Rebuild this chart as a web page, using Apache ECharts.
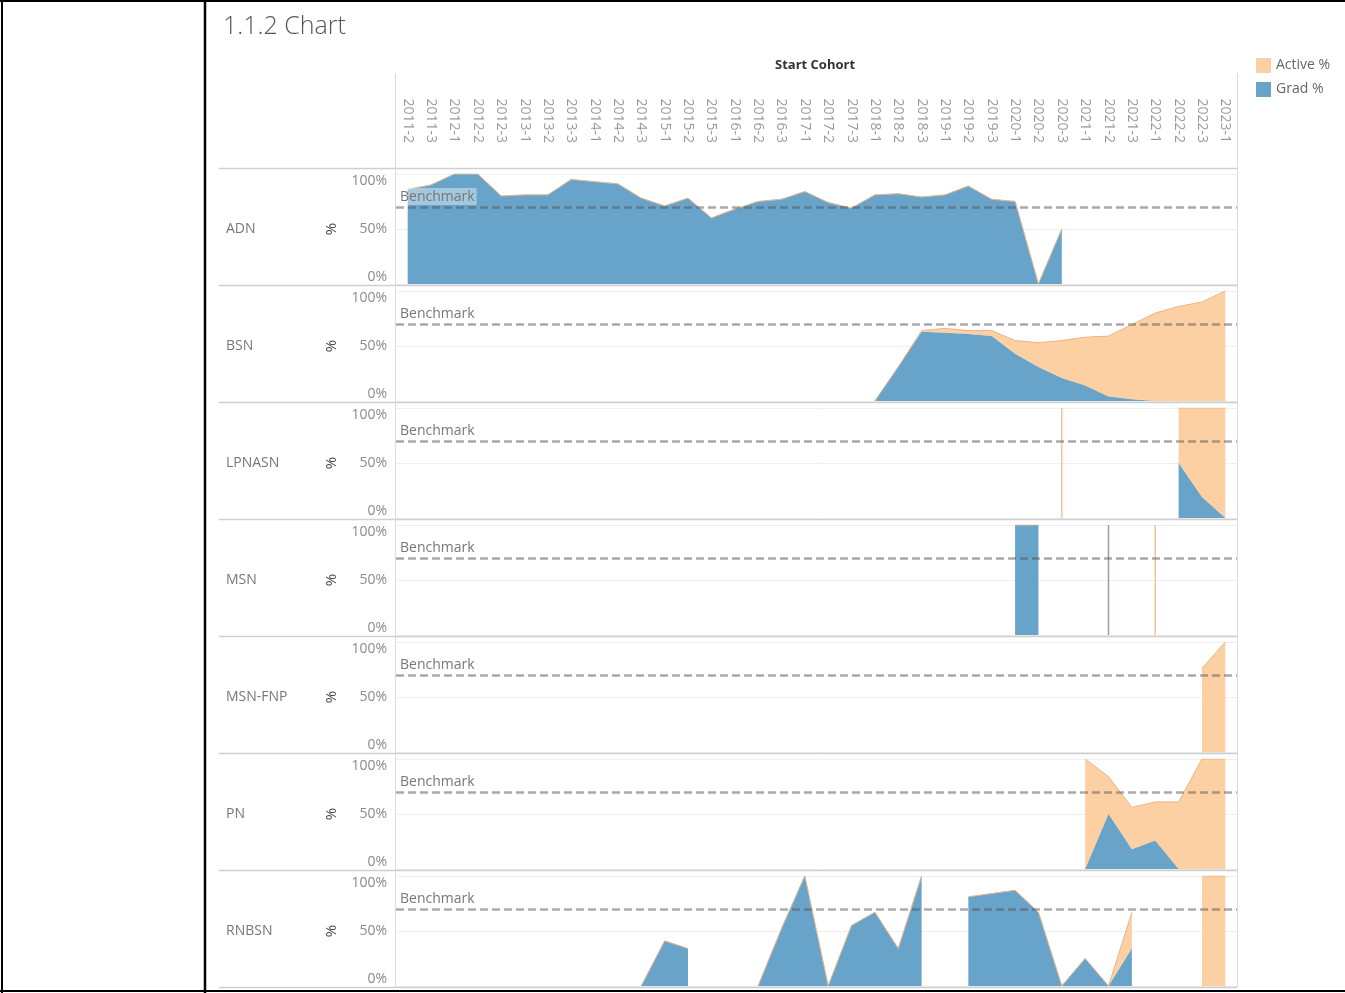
<!DOCTYPE html>
<html>
<head>
<meta charset="utf-8">
<title>1.1.2 Chart</title>
<script src="https://cdn.jsdelivr.net/npm/echarts@6/dist/echarts.min.js"></script>
<style>
  html, body { margin: 0; padding: 0; background: #fff; }
  #chart { width: 1345px; height: 993px; }
</style>
</head>
<body>
<div id="chart"></div>
<script>
const _ = null;

// Start cohorts (year-term)
const cohorts = [
  '2011-2','2011-3','2012-1','2012-2','2012-3','2013-1','2013-2','2013-3','2014-1','2014-2','2014-3',
  '2015-1','2015-2','2015-3','2016-1','2016-2','2016-3','2017-1','2017-2','2017-3','2018-1','2018-2',
  '2018-3','2019-1','2019-2','2019-3','2020-1','2020-2','2020-3','2021-1','2021-2','2021-3','2022-1',
  '2022-2','2022-3','2023-1'
];

const programs = ['ADN', 'BSN', 'LPNASN', 'MSN', 'MSN-FNP', 'PN', 'RNBSN'];

// Graduated / still-active share of each cohort, in percent
const gradADN = [86,90,100,100,80,81,81,95,93,91,78,71,78,60,68,75,77,84,74,69,81,82,79,81,89,77,75,0,50,_,_,_,_,_,_,_];
const activeADN = [0,0,0,0,0,0,0,0,0,0,0,0,0,0,0,0,0,0,0,0,0,0,0,0,0,0,0,0,0,_,_,_,_,_,_,_];

const gradBSN = [_,_,_,_,_,_,_,_,_,_,_,_,_,_,_,_,_,_,_,_,0,31,63,62,61,59,43,31,21,14,4,1.5,0,0,0,0];
const activeBSN = [_,_,_,_,_,_,_,_,_,_,_,_,_,_,_,_,_,_,_,_,0,0,1,4,3,5,12,22,34,44,55,68,80,86,90,100];

const gradLPNASN = [_,_,_,_,_,_,_,_,_,_,_,_,_,_,_,_,_,_,_,_,_,_,_,_,_,_,_,_,0,_,_,_,_,50,19,0];
const activeLPNASN = [_,_,_,_,_,_,_,_,_,_,_,_,_,_,_,_,_,_,_,_,_,_,_,_,_,_,_,_,100,_,_,_,_,50,81,100];

const gradMSN = [_,_,_,_,_,_,_,_,_,_,_,_,_,_,_,_,_,_,_,_,_,_,_,_,_,_,100,100,_,_,100,_,0,_,_,_];
const activeMSN = [_,_,_,_,_,_,_,_,_,_,_,_,_,_,_,_,_,_,_,_,_,_,_,_,_,_,0,0,_,_,0,_,100,_,_,_];

const gradMSNFNP = [_,_,_,_,_,_,_,_,_,_,_,_,_,_,_,_,_,_,_,_,_,_,_,_,_,_,_,_,_,_,_,_,_,_,0,0];
const activeMSNFNP = [_,_,_,_,_,_,_,_,_,_,_,_,_,_,_,_,_,_,_,_,_,_,_,_,_,_,_,_,_,_,_,_,_,_,76,100];

const gradPN = [_,_,_,_,_,_,_,_,_,_,_,_,_,_,_,_,_,_,_,_,_,_,_,_,_,_,_,_,_,0,50,18,26,0,0,0];
const activePN = [_,_,_,_,_,_,_,_,_,_,_,_,_,_,_,_,_,_,_,_,_,_,_,_,_,_,_,_,_,100,34,38,35,61,100,100];

const gradRNBSN = [_,_,_,_,_,_,_,_,_,_,0,41,34,_,_,0,52,100,0,55,67,34,100,_,81,84,87,67,0,25,0,34,_,_,0,0];
const activeRNBSN = [_,_,_,_,_,_,_,_,_,_,0,0,0,_,_,0,0,0,0,0,0,0,0,_,0,0,0,0,0,0,0,33,_,_,100,100];

const benchmark = 70;
const yTicks = [0, 50, 100];

const gradSeries = [gradADN, gradBSN, gradLPNASN, gradMSN, gradMSNFNP, gradPN, gradRNBSN];
const activeSeries = [activeADN, activeBSN, activeLPNASN, activeMSN, activeMSNFNP, activePN, activeRNBSN];

const BLUE = '#68a3c9';
const ORANGE = '#fcd0a2';
const ORANGE_EDGE = '#e8b58a';
const FONT = '"Open Sans", "Noto Sans", sans-serif';

// layout of the small-multiple panes
const PANE_TOP = 168, PANE_STEP = 117, PANE_PAD = 6, PLOT_H = 110;
const PLOT_LEFT = 396, PLOT_RIGHT = 1237;

// a cohort with no neighbours cannot form an area; draw it as a thin spike
function isolated(grad, active, i) {
  const has = j => j >= 0 && j < cohorts.length && (grad[j] != null || active[j] != null);
  return has(i) && !has(i - 1) && !has(i + 1);
}

const grids = [], xAxes = [], yAxes = [], series = [], graphics = [];

programs.forEach((prog, k) => {
  const grad = gradSeries[k], active = activeSeries[k];
  const top = PANE_TOP + PANE_STEP * k + PANE_PAD;
  grids.push({ left: PLOT_LEFT, width: PLOT_RIGHT - PLOT_LEFT, top: top, height: PLOT_H, outerBoundsMode: 'none', containLabel: false });
  xAxes.push({
    type: 'category', gridIndex: k, data: cohorts, boundaryGap: true,
    axisLine: { show: false }, axisTick: { show: false }, axisLabel: { show: false }, splitLine: { show: false }
  });
  yAxes.push({
    type: 'value', gridIndex: k, min: yTicks[0], max: yTicks[yTicks.length - 1], interval: yTicks[1] - yTicks[0],
    name: '%', nameLocation: 'middle', nameGap: 57, nameRotate: 90,
    nameTextStyle: { color: '#444', fontSize: 15, fontFamily: FONT },
    axisLine: { show: false }, axisTick: { show: false },
    axisLabel: {
      formatter: '{value}%', color: '#8a8a8a', fontSize: 14, fontFamily: FONT, margin: 9,
      verticalAlignMinLabel: 'bottom', verticalAlignMaxLabel: 'top'
    },
    splitLine: { lineStyle: { color: '#efefef', width: 1 } }
  });

  series.push({
    name: 'Grad %', type: 'line', xAxisIndex: k, yAxisIndex: k, stack: 'p' + k,
    data: grad, symbol: 'none', connectNulls: false, color: BLUE,
    lineStyle: { color: BLUE, width: 0.5 }, areaStyle: { color: BLUE, opacity: 1 }, z: 2
  });
  series.push({
    name: 'Active %', type: 'line', xAxisIndex: k, yAxisIndex: k, stack: 'p' + k,
    data: active, symbol: 'none', connectNulls: false, color: ORANGE,
    lineStyle: { color: ORANGE_EDGE, width: 1 }, areaStyle: { color: ORANGE, opacity: 1 }, z: 3,
    markLine: {
      silent: true, symbol: 'none', z: 10,
      data: [{ yAxis: benchmark }],
      lineStyle: { color: 'rgba(85,85,85,0.5)', type: [8, 4], width: 2.5 },
      label: {
        show: true, position: 'insideStartTop', formatter: 'Benchmark', distance: [2, 2],
        color: '#777', fontSize: 14, fontFamily: FONT,
        backgroundColor: 'rgba(255,255,255,0.4)', padding: [2, 2, 1, 2]
      },
      emphasis: { disabled: true }
    }
  });
  const spikeGrad = grad.map((v, i) => isolated(grad, active, i) ? v : null);
  const spikeActive = active.map((v, i) => isolated(grad, active, i) ? v : null);
  series.push({
    name: 'Grad %', type: 'bar', xAxisIndex: k, yAxisIndex: k, stack: 's' + k, barWidth: 1.5,
    data: spikeGrad, itemStyle: { color: '#a39b85' }, z: 2
  });
  series.push({
    name: 'Active %', type: 'bar', xAxisIndex: k, yAxisIndex: k, stack: 's' + k, barWidth: 1.5,
    data: spikeActive, itemStyle: { color: '#f6c594' }, z: 2
  });

  // program name for the row
  graphics.push({
    type: 'text', left: 226, top: PANE_TOP + PANE_STEP * k + PANE_STEP / 2 - 4,
    style: { text: prog, fill: '#777', font: '14px ' + FONT }, silent: true
  });
});

// cohort labels along the top of the first pane
xAxes.push({
  type: 'category', gridIndex: 0, data: cohorts, boundaryGap: true, position: 'top',
  axisLine: { show: false }, axisTick: { show: false }, splitLine: { show: false },
  axisLabel: { rotate: 90, interval: 0, margin: 31, color: '#999', fontSize: 14, fontFamily: FONT }
});

// pane separators and frame
for (let k = 0; k <= programs.length; k++) {
  const y = PANE_TOP + PANE_STEP * k + 0.5;
  graphics.push({ type: 'line', shape: { x1: 219, y1: y, x2: PLOT_RIGHT, y2: y }, style: { stroke: '#cfcfcf', lineWidth: 1.5 }, silent: true, z: 20 });
}
graphics.push({ type: 'line', shape: { x1: PLOT_LEFT - 0.5, y1: 73, x2: PLOT_LEFT - 0.5, y2: 987 }, style: { stroke: '#dcdcdc', lineWidth: 1 }, silent: true, z: 20 });
graphics.push({ type: 'line', shape: { x1: PLOT_RIGHT + 0.5, y1: 73, x2: PLOT_RIGHT + 0.5, y2: 987 }, style: { stroke: '#dcdcdc', lineWidth: 1 }, silent: true, z: 20 });
// outer table rules
graphics.push({ type: 'line', shape: { x1: 0, y1: 1, x2: 1345, y2: 1 }, style: { stroke: '#000', lineWidth: 2 }, silent: true, z: 30 });
graphics.push({ type: 'line', shape: { x1: 0, y1: 991, x2: 1345, y2: 991 }, style: { stroke: '#000', lineWidth: 2 }, silent: true, z: 30 });
graphics.push({ type: 'line', shape: { x1: 2, y1: 0, x2: 2, y2: 993 }, style: { stroke: '#000', lineWidth: 2 }, silent: true, z: 30 });
graphics.push({ type: 'line', shape: { x1: 205, y1: 0, x2: 205, y2: 993 }, style: { stroke: '#000', lineWidth: 2.5 }, silent: true, z: 30 });
// headings
graphics.push({ type: 'text', left: 223, top: 14, style: { text: '1.1.2 Chart', fill: '#555', font: '300 25px ' + FONT }, silent: true });
graphics.push({ type: 'text', left: 775, top: 59, style: { text: 'Start Cohort', fill: '#333', font: 'bold 13px ' + FONT }, silent: true });

const chart = echarts.init(document.getElementById('chart'), null, { renderer: 'canvas' });
chart.setOption({
  animation: false,
  backgroundColor: '#fff',
  textStyle: { fontFamily: FONT },
  legend: {
    data: ['Active %', 'Grad %'], orient: 'vertical', left: 1251, top: 53,
    icon: 'rect', itemWidth: 15, itemHeight: 15, itemGap: 9,
    textStyle: { color: '#666', fontSize: 14, fontFamily: FONT },
    itemStyle: { borderWidth: 0 }, selectedMode: false
  },
  grid: grids,
  xAxis: xAxes,
  yAxis: yAxes,
  series: series,
  graphic: graphics
});
</script>
</body>
</html>
